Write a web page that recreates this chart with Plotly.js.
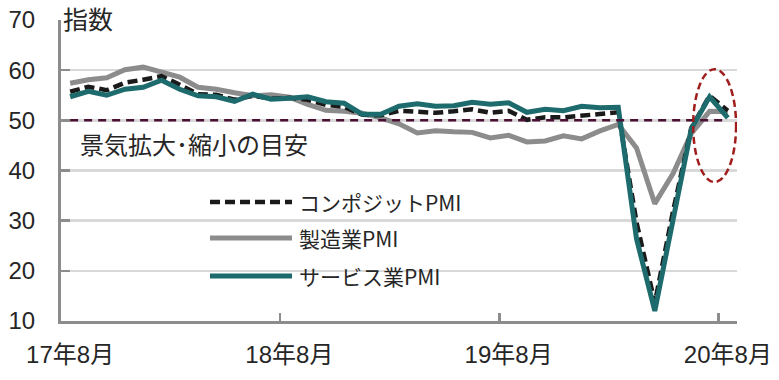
<!DOCTYPE html>
<html>
<head>
<meta charset="utf-8">
<script src="https://cdn.plot.ly/plotly-3.0.1.min.js"></script>
<style>html,body{margin:0;padding:0;background:#fff;}#chart{width:779px;height:380px;}</style>
</head>
<body>
<div id="chart"></div>
<script>
// Months: 2017-08 .. 2020-08
const months = [
  '17年8月','17年9月','17年10月','17年11月','17年12月',
  '18年1月','18年2月','18年3月','18年4月','18年5月','18年6月','18年7月','18年8月','18年9月','18年10月','18年11月','18年12月',
  '19年1月','19年2月','19年3月','19年4月','19年5月','19年6月','19年7月','19年8月','19年9月','19年10月','19年11月','19年12月',
  '20年1月','20年2月','20年3月','20年4月','20年5月','20年6月','20年7月','20年8月'
];
const tickLabels = ['17年8月','18年8月','19年8月','20年8月'];

const composite = [55.7,56.7,56.0,57.5,58.1,
  58.8,57.1,55.2,55.1,54.1,54.9,54.3,54.5,54.1,53.1,52.7,51.1,
  51.0,51.9,51.6,51.5,51.8,52.2,51.5,51.9,50.1,50.6,50.6,50.9,
  51.3,51.6,29.7,13.6,31.9,48.5,54.9,51.9];
const manufacturing = [57.4,58.1,58.5,60.1,60.6,
  59.6,58.6,56.6,56.2,55.5,54.9,55.1,54.6,53.2,52.0,51.8,51.4,
  50.5,49.3,47.5,47.9,47.7,47.6,46.5,47.0,45.7,45.9,46.9,46.3,
  47.9,49.2,44.5,33.4,39.4,47.4,51.8,51.7];
const services = [54.7,55.8,55.0,56.2,56.6,
  58.0,56.2,54.9,54.7,53.8,55.2,54.2,54.4,54.7,53.7,53.4,51.2,
  51.2,52.8,53.3,52.8,52.9,53.6,53.2,53.5,51.6,52.2,51.9,52.8,
  52.5,52.6,26.4,12.0,30.5,48.3,54.7,50.5];
const threshold = 50;

const seriesNames = ['コンポジットPMI','製造業PMI','サービス業PMI'];
const styles = {
  'コンポジットPMI': {color:'#1a1a1a', width:4.5, dash:'10px,5px'},
  '製造業PMI': {color:'#8c8c8c', width:5, dash:'solid'},
  'サービス業PMI': {color:'#1d6b6d', width:5, dash:'solid'}
};
const seriesData = {'コンポジットPMI':composite,'製造業PMI':manufacturing,'サービス業PMI':services};

const idx = months.map((m,i)=>i);
const traces = [];
// threshold line (on overlay axis)
traces.push({
  x: idx, y: months.map(()=>threshold), xaxis:'x2', yaxis:'y',
  mode:'lines', line:{color:'#4a0f33', width:2.5, dash:'8px,6px'},
  hoverinfo:'skip', showlegend:false
});
// draw order: manufacturing, composite, services
['製造業PMI','コンポジットPMI','サービス業PMI'].forEach(n=>{
  traces.push({x: months, y: seriesData[n], name:n, type:'scatter', mode:'lines',
    line:{color:styles[n].color, width:styles[n].width, dash:styles[n].dash}, showlegend:false});
});

const L = 61, R = 737, T = 20, B = 321;
const px2paperX = p => (p-L)/(R-L);
const yMin = 10, yMax = 70;
const px2y = p => yMax - (p-T)/(B-T)*(yMax-yMin);

const tickFont = {family:"Liberation Sans, 'Noto Sans CJK JP', sans-serif", size:24, color:'#262626'};
const cjkFont = "'Noto Sans CJK JP', Liberation Sans, sans-serif";
const annotations = [
  {text:'指数', xref:'paper', yref:'paper', x:px2paperX(61), y:(B-18)/(B-T), xanchor:'left', yanchor:'middle', showarrow:false,
   font:{family:cjkFont, size:25, color:'#262626'}},
  {text:'景気拡大･縮小の目安', xref:'paper', yref:'y', x:px2paperX(78), y:px2y(143), xanchor:'left', yanchor:'middle', showarrow:false,
   font:{family:cjkFont, size:24, color:'#262626'}}
];
const shapes = [];
const legendRows = [202, 238, 276];
seriesNames.forEach((n,i)=>{
  annotations.push({text:n, xref:'paper', yref:'y', x:px2paperX(297), y:px2y(legendRows[i]), xanchor:'left', yanchor:'middle', showarrow:false,
    font:{family:cjkFont, size:21, color:'#262626'}});
  shapes.push({type:'line', xref:'paper', yref:'y', x0:px2paperX(210), x1:px2paperX(292), y0:px2y(legendRows[i]), y1:px2y(legendRows[i]),
    line:{color:styles[n].color, width:styles[n].width, dash:styles[n].dash}});
});
// highlight ellipse around latest values
shapes.push({type:'circle', xref:'x2', yref:'y', x0:34.1, x1:36.45, y0:37.7, y1:60.2,
  line:{color:'#a11d1d', width:2.5, dash:'7px,4px'}});

const layout = {
  width:779, height:380,
  margin:{l:L, r:779-R, t:T, b:380-B, pad:0},
  paper_bgcolor:'#fff', plot_bgcolor:'#fff',
  font: tickFont,
  showlegend:false,
  xaxis:{type:'category', range:[-0.5, months.length-0.5], tickmode:'array', tickvals:tickLabels, ticktext:tickLabels,
    ticks:'', showgrid:false, zeroline:false, showline:true, linecolor:'#8c8c8c', linewidth:3,
    tickfont:tickFont, ticklabelstandoff:10, fixedrange:true},
  xaxis2:{overlaying:'x', anchor:'y', type:'linear', range:[-0.5, months.length-0.5], tickmode:'array',
    tickvals: tickLabels.map(t=>months.indexOf(t)-0.5), showticklabels:false,
    ticks:'inside', ticklen:8, tickwidth:2.5, tickcolor:'#8c8c8c', showgrid:false, zeroline:false, showline:false},
  yaxis:{range:[yMin,yMax], dtick:10, tick0:10, showgrid:true, gridcolor:'#d9d9d9', gridwidth:2.5, zeroline:false,
    showline:true, linecolor:'#8c8c8c', linewidth:3, ticks:'inside', ticklen:9, tickwidth:2.5, tickcolor:'#8c8c8c',
    tickfont:tickFont, ticklabelstandoff:18, fixedrange:true},
  annotations: annotations,
  shapes: shapes
};
Plotly.newPlot('chart', traces, layout, {staticPlot:true, displayModeBar:false});
</script>
</body>
</html>
